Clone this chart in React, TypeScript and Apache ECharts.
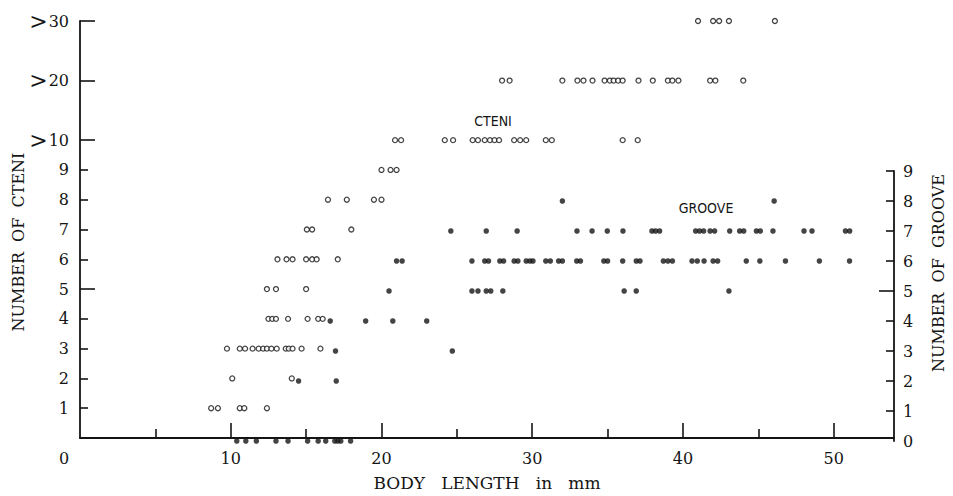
import React, { useEffect, useRef } from 'react';
import * as echarts from 'echarts';

// ---- axis tick labels ----
const xTickLabels = [0, 10, 20, 30, 40, 50];
const xMinorTicks = [5, 15, 25, 35, 45];
const cteniTickLabels = ['1', '2', '3', '4', '5', '6', '7', '8', '9', '>10', '>20', '>30'];
const cteniTickPositions = [1, 2, 3, 4, 5, 6, 7, 8, 9, 10, 12, 14];
const cteniMajorTicks = [5, 10, 12, 14];
const cteniMinorTicks = [1, 2, 3, 4, 6, 7, 8, 9];
const grooveTickLabels = [0, 1, 2, 3, 4, 5, 6, 7, 8, 9];
const grooveMajorTicks = [5];
const grooveMinorTicks = [1, 2, 3, 4, 6, 7, 8, 9];

// ---- number of cteni (open circles), body length in mm per level ----
const cteni1 = [8.7, 9.15, 10.6, 10.9, 12.4];
const cteni2 = [10.1, 14.05];
const cteni3 = [9.75, 10.6, 10.95, 11.45, 11.85, 12.15, 12.4, 12.7, 13.05, 13.65, 13.85, 14.1, 14.7, 15.95];
const cteni4 = [12.5, 12.75, 13.0, 13.8, 15.1, 15.8, 16.1];
const cteni5 = [12.4, 13.0, 15.0];
const cteni6 = [13.1, 13.7, 14.1, 15.0, 15.4, 15.7, 17.1];
const cteni7 = [15.05, 15.4, 18.0];
const cteni8 = [16.45, 17.7, 19.5, 20.0];
const cteni9 = [20.0, 20.6, 21.0];
const cteniOver10 = [20.9, 21.3, 24.2, 24.75, 26.05, 26.4, 26.85, 27.2, 27.5, 27.8, 28.8, 29.2, 29.6, 30.9, 31.3, 36.0, 37.0];
const cteniOver20 = [28.0, 28.5, 32.0, 33.0, 33.4, 34.0, 34.8, 35.15, 35.4, 35.7, 36.0, 37.05, 38.0, 39.0, 39.3, 39.7, 41.8, 42.15, 44.0];
const cteniOver30 = [41.0, 42.0, 42.4, 43.05, 46.1];

// ---- number of groove (filled dots), body length in mm per level ----
const groove0 = [10.4, 11.0, 11.7, 13.0, 13.8, 15.1, 15.8, 16.3, 16.9, 17.1, 17.3, 17.95];
const groove1: number[] = [];
const groove2 = [14.5, 17.0];
const groove3 = [16.95, 24.7];
const groove4 = [16.6, 18.95, 20.75, 23.0];
const groove5 = [20.5, 26.0, 26.4, 26.95, 27.25, 28.05, 36.1, 36.9, 43.05];
const groove6 = [21.0, 21.37, 26.0, 26.85, 27.1, 27.85, 28.1, 28.8, 29.05, 29.6, 29.85, 30.05, 30.9, 31.2, 31.75, 32.0, 32.95, 33.2, 34.75, 35.0, 36.0, 36.9, 37.15, 38.7, 39.0, 39.3, 40.6, 40.95, 41.4, 42.0, 42.3, 44.2, 45.1, 46.8, 49.05, 51.05];
const groove7 = [24.6, 26.95, 29.0, 32.97, 33.97, 34.98, 36.02, 37.94, 38.18, 38.45, 40.84, 41.1, 41.37, 41.8, 42.1, 43.1, 43.76, 44.03, 44.87, 45.13, 45.97, 48.03, 48.56, 50.78, 51.06];
const groove8 = [32.0, 46.05];

const cteniRows = [cteni1, cteni2, cteni3, cteni4, cteni5, cteni6, cteni7, cteni8, cteni9, cteniOver10, cteniOver20, cteniOver30];
const grooveRows = [groove0, groove1, groove2, groove3, groove4, groove5, groove6, groove7, groove8];

const INK = '#151515';
const SERIF = '"DejaVu Serif", "Liberation Serif", serif';
const PLOT = '"DejaVu Sans Condensed", "DejaVu Sans", sans-serif';
const SP = '\u00a0\u00a0\u00a0';

export default function App() {
  const ref = useRef<HTMLDivElement>(null);
  useEffect(() => {
    if (!ref.current) return;
    const chart = echarts.init(ref.current, undefined, { renderer: 'svg' });
    const cteniData = cteniRows.flatMap((row, i) => row.map((x) => [x, cteniTickPositions[i]]));
    const grooveData = grooveRows.flatMap((row, i) => row.map((x) => [x, i]));
    const lineStyle = { color: INK, width: 1.8 };
    const tickStyle = { color: INK, width: 1.6 };
    const labelFor = (v: number) => {
      const idx = cteniTickPositions.indexOf(v);
      const s = idx >= 0 ? cteniTickLabels[idx] : '';
      return s.startsWith('>') ? '{g|>}{n|' + s.slice(1) + '}' : '{n|' + s + '}';
    };
    chart.setOption({
      animation: false,
      backgroundColor: '#ffffff',
      grid: [
        { left: 80, right: 59, top: 21, bottom: 55 },
        { left: 80, right: 59, top: 171, bottom: 55 },
      ],
      xAxis: [
        {
          gridIndex: 0, type: 'value', min: 0, max: 54, position: 'bottom',
          axisLine: { show: true, onZero: false, lineStyle },
          axisTick: { show: true, inside: true, length: 15, lineStyle: tickStyle, customValues: xTickLabels.slice(1) },
          axisLabel: {
            show: true, customValues: xTickLabels, margin: 12,
            fontFamily: SERIF, fontSize: 16, color: INK,
            formatter: (v: number) => (v === 0 ? '{z|0}' : String(v)),
            rich: { z: { padding: [0, 32, 0, 0], fontFamily: SERIF, fontSize: 16, color: INK } },
          },
          splitLine: { show: false },
          name: 'BODY' + SP + 'LENGTH' + SP + 'in' + SP + 'mm',
          nameLocation: 'middle', nameGap: 36,
          nameTextStyle: { fontFamily: SERIF, fontSize: 17, color: INK },
        },
        {
          gridIndex: 0, type: 'value', min: 0, max: 54, position: 'bottom',
          axisLine: { show: false, onZero: false },
          axisTick: { show: true, inside: true, length: 9, lineStyle: tickStyle, customValues: xMinorTicks },
          axisLabel: { show: false },
          splitLine: { show: false },
        },
        { gridIndex: 1, type: 'value', min: 0, max: 54, show: false, position: 'bottom', axisLine: { onZero: false } },
      ],
      yAxis: [
        {
          gridIndex: 0, type: 'value', min: 0, max: 14, position: 'left',
          axisLine: { show: true, onZero: false, lineStyle },
          axisTick: { show: true, inside: true, length: 8, lineStyle: tickStyle, customValues: cteniMinorTicks },
          axisLabel: {
            show: true, customValues: cteniTickPositions, margin: 11,
            formatter: labelFor,
            rich: {
              g: { fontFamily: SERIF, fontSize: 22, color: INK, padding: [0, 1, 0, 0] },
              n: { fontFamily: SERIF, fontSize: 16, color: INK },
            },
          },
          splitLine: { show: false },
        },
        {
          gridIndex: 0, type: 'value', min: 0, max: 14, position: 'left',
          axisLine: { show: false, onZero: false },
          axisTick: { show: true, inside: true, length: 15, lineStyle: tickStyle, customValues: cteniMajorTicks },
          axisLabel: { show: false },
          splitLine: { show: false },
        },
        {
          gridIndex: 1, type: 'value', min: 0, max: 9, position: 'right',
          axisLine: { show: true, onZero: false, lineStyle },
          axisTick: { show: true, inside: true, length: 8, lineStyle: tickStyle, customValues: grooveMinorTicks },
          axisLabel: {
            show: true, customValues: grooveTickLabels, margin: 9,
            fontFamily: SERIF, fontSize: 16, color: INK,
          },
          splitLine: { show: false },
        },
        {
          gridIndex: 1, type: 'value', min: 0, max: 9, position: 'right',
          axisLine: { show: false, onZero: false },
          axisTick: { show: true, inside: true, length: 15, lineStyle: tickStyle, customValues: grooveMajorTicks },
          axisLabel: { show: false },
          splitLine: { show: false },
        },
      ],
      series: [
        {
          name: 'CTENI', type: 'scatter', xAxisIndex: 0, yAxisIndex: 0,
          data: cteniData, symbol: 'circle', symbolSize: 5, clip: false,
          itemStyle: { color: '#ffffff', borderColor: INK, borderWidth: 1.3 },
          z: 3,
        },
        {
          name: 'GROOVE', type: 'scatter', xAxisIndex: 2, yAxisIndex: 2,
          data: grooveData, symbol: 'circle', symbolSize: 5.5, clip: false,
          itemStyle: { color: INK },
          z: 3,
        },
      ],
      graphic: [
        {
          type: 'text', x: 18, y: 242, rotation: Math.PI / 2,
          style: { text: 'NUMBER\u00a0\u00a0OF\u00a0\u00a0CTENI', fontFamily: SERIF, fontSize: 16, fill: INK, align: 'center', verticalAlign: 'middle' },
        },
        {
          type: 'text', x: 938, y: 273, rotation: Math.PI / 2,
          style: { text: 'NUMBER\u00a0\u00a0OF\u00a0\u00a0GROOVE', fontFamily: SERIF, fontSize: 16, fill: INK, align: 'center', verticalAlign: 'middle' },
        },
        {
          type: 'text', x: 493, y: 121,
          style: { text: 'CTENI', fontFamily: PLOT, fontSize: 14, fill: INK, align: 'center', verticalAlign: 'middle' },
        },
        {
          type: 'text', x: 706, y: 208,
          style: { text: 'GROOVE', fontFamily: PLOT, fontSize: 14, fill: INK, align: 'center', verticalAlign: 'middle' },
        },
      ],
    });
    return () => chart.dispose();
  }, []);
  return <div ref={ref} style={{ position: 'fixed', left: 0, top: 0, width: 953, height: 496, background: '#fff' }} />;
}
